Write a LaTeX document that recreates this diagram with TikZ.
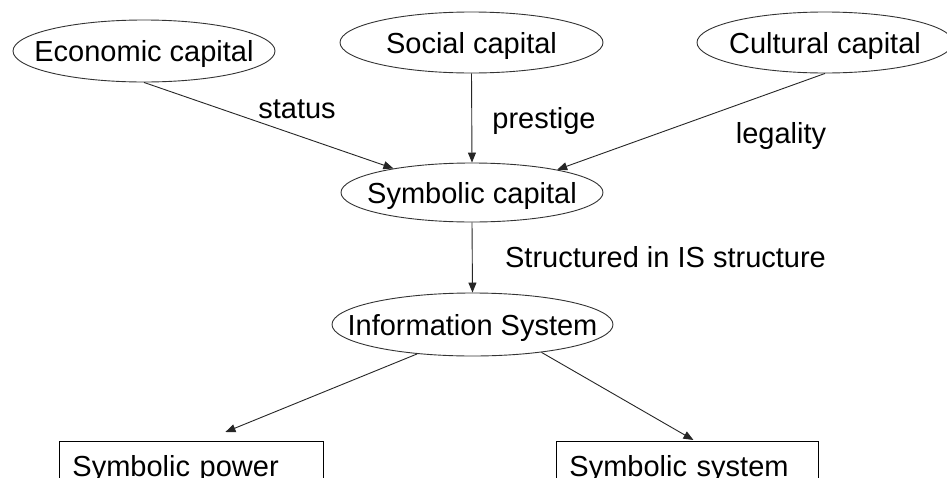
\documentclass[tikz,border=0pt]{standalone}
\usepackage{fontspec}
\setmainfont{Liberation Sans}
\usetikzlibrary{arrows.meta,shapes.geometric}
\newcommand\ctrtxt[1]{\makebox[0pt]{#1}}
\begin{document}
\begin{tikzpicture}[x=1pt,y=-1pt,
  every node/.style={font=\fontsize{29}{34}\selectfont},
  oval/.style={ellipse,draw=black!80,line width=0.9pt,inner sep=0pt,text height=23pt,text depth=2pt},
  lab/.style={anchor=base,inner sep=0pt},
  boxnode/.style={rectangle,draw=black,line width=0.9pt,anchor=north west,inner xsep=13pt,inner ysep=14pt,
    text height=21pt,text depth=30pt,align=left},
  conn/.style={draw=black!85,line width=0.9pt,-{Triangle[length=10pt,width=8pt]}}]
\useasboundingbox (0,0) rectangle (947,477);
\clip (0,0) rectangle (947,477);
\fill[white] (0,0) rectangle (947,477);
% ellipses
\node[oval,minimum width=262pt,minimum height=62pt] (eco) at (144,51) {\ctrtxt{Economic capital}};
\node[oval,minimum width=263pt,minimum height=61pt] (soc) at (471.5,42.5) {\ctrtxt{Social capital}};
\node[oval,minimum width=256pt,minimum height=61pt] (cul) at (825,42.5) {\ctrtxt{Cultural capital}};
\node[oval,minimum width=262pt,minimum height=59pt] (sym) at (472,192.5) {\ctrtxt{Symbolic capital}};
\node[oval,minimum width=281pt,minimum height=63pt] (info) at (472.5,324.5) {\ctrtxt{Information System}};
% boxes
\node[boxnode,text width=238pt] (pow) at (59,441) {Symbolic power};
\node[boxnode,text width=236pt] (sys) at (556,441) {Symbolic system};
% labels
\node[lab] (lstatus) at (297,118) {status};
\node[lab] (lprest) at (544,128) {prestige};
\node[lab] (llegal) at (781,143) {legality};
\node[lab] (lstruct) at (665.5,267) {Structured in IS structure};
% connectors
\draw[conn] (eco.south) -- (sym.163);
\draw[conn] (soc.south) -- (sym.north);
\draw[conn] (cul.south) -- (sym.15);
\draw[conn] (sym.south) -- (info.north);
\draw[conn] (info.208) -- ([xshift=34pt,yshift=9pt]pow.north);
\draw[conn] (info.338) -- ([xshift=6pt,yshift=1pt]sys.north);
\end{tikzpicture}
\end{document}
